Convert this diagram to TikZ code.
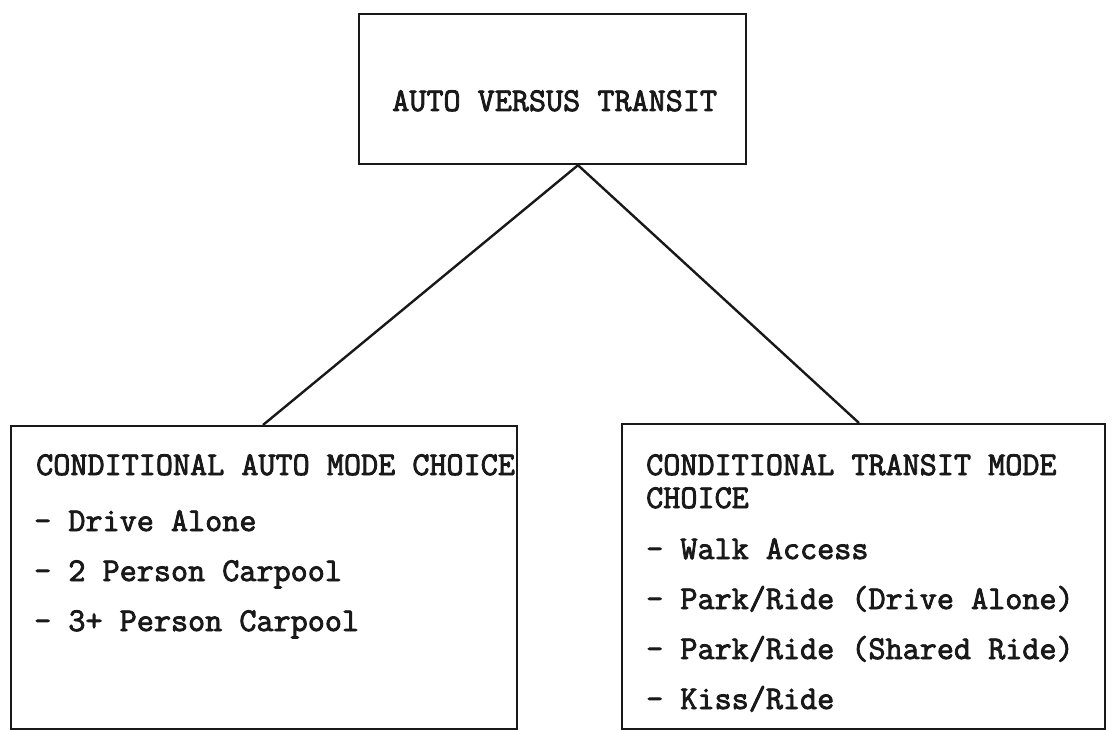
\documentclass[tikz,border=0pt]{standalone}
\usepackage{fontspec}
\newfontfamily\twfont{Latin Modern Mono}[FakeBold=2.5]
\begin{document}
\begin{tikzpicture}[x=1pt,y=-1pt,
  box/.style={draw=black!90, line width=2.2pt, inner sep=0pt, rectangle},
  lbl/.style={anchor=base west, inner sep=0pt, font=\twfont\fontsize{33.2}{38}\selectfont, text=black!90},
  conn/.style={line width=2.4pt, draw=black!90}]
\useasboundingbox (0,0) rectangle (1119,730);
\fill[white] (0,0) rectangle (1119,730);
% boxes
\node[box, anchor=north west, minimum width=387pt, minimum height=150pt] (topbox) at (358,13) {};
\node[box, anchor=north west, minimum width=506pt, minimum height=303pt] (lbox) at (10,425) {};
\node[box, anchor=north west, minimum width=483pt, minimum height=305pt] (rbox) at (621,423) {};
% connector end points on the box edges
\coordinate (apex) at (topbox.south -| 578,0);
\coordinate (lend) at (lbox.north -| 263,0);
\coordinate (rend) at (rbox.north -| 859,0);
\draw[conn] (apex) -- (lend);
\draw[conn] (apex) -- (rend);
% texts
\node[lbl] (ttop) at (392,111) {AUTO VERSUS TRANSIT};
\node[lbl] (lt) at (36,475) {CONDITIONAL AUTO MODE CHOICE};
\node[lbl] (l1) at (34,531) {- Drive Alone};
\node[lbl] (l2) at (34,581) {- 2 Person Carpool};
\node[lbl] (l3) at (34,631) {- 3+ Person Carpool};
\node[lbl] (rt1) at (646,475) {CONDITIONAL TRANSIT MODE};
\node[lbl] (rt2) at (646,508) {CHOICE};
\node[lbl] (r1) at (646,559) {- Walk Access};
\node[lbl] (r2) at (646,609) {- Park/Ride (Drive Alone)};
\node[lbl] (r3) at (646,659) {- Park/Ride (Shared Ride)};
\node[lbl] (r4) at (646,709) {- Kiss/Ride};
\end{tikzpicture}
\end{document}
